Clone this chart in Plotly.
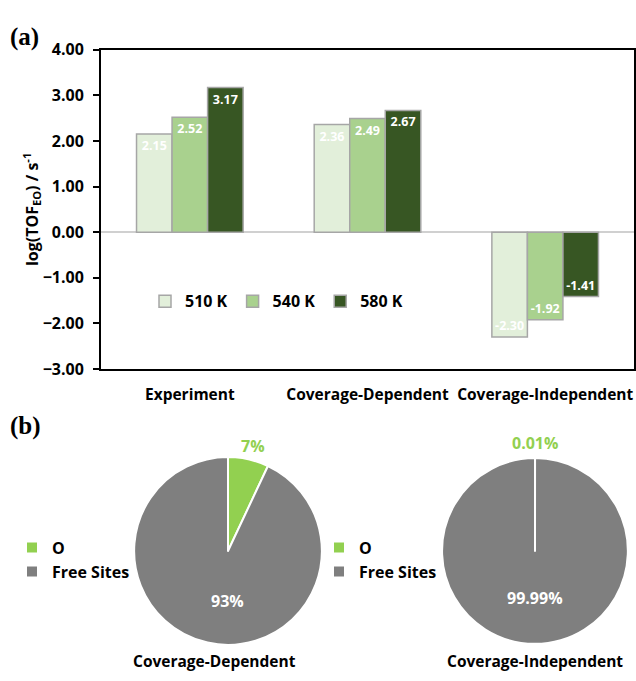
import plotly.graph_objects as go

W, H = 636, 681

# ---- panel (a): log TOF by model and temperature ----
groups = ["Experiment", "Coverage-Dependent", "Coverage-Independent"]
temps = ["510 K", "540 K", "580 K"]
tof_510 = [2.15, 2.36, -2.30]
tof_540 = [2.52, 2.49, -1.92]
tof_580 = [3.17, 2.67, -1.41]
bar_colors = ["#E2EFDA", "#A9D18E", "#375623"]
y_ticks = [-3, -2, -1, 0, 1, 2, 3, 4]

# ---- panel (b): surface coverage ----
cov_labels = ["O", "Free Sites"]
cov_dependent = [7, 93]
cov_independent = [0.01, 99.99]
pie_colors = ["#92D050", "#7F7F7F"]

FONT = "Open Sans"


def px(x):
    return x / W


def py(y):
    return 1 - y / H


fig = go.Figure()

for name, vals, col in zip(temps, [tof_510, tof_540, tof_580], bar_colors):
    fig.add_trace(go.Bar(
        x=groups, y=vals, name=name,
        marker=dict(color=col, line=dict(color="#A6A6A6", width=1.5)),
        texttemplate="%{y:.2f}", textposition="inside", insidetextanchor="end",
        textfont=dict(family=FONT, size=12.5, color="white", weight="bold"),
        textangle=0, legend="legend",
    ))

pie_common = dict(
    labels=cov_labels, sort=False, direction="clockwise", rotation=0,
    marker=dict(colors=pie_colors, line=dict(color="white", width=2)),
    textinfo="none", hoverinfo="label+percent",
)
# separate legend groups so each pie gets its own legend entries
fig.add_trace(go.Pie(values=cov_dependent, legend="legend2", legendgroup="dep",
                     domain=dict(x=[px(131), px(325)], y=[py(655), py(461)]),
                     **pie_common))
fig.add_trace(go.Pie(values=cov_independent, legend="legend3", legendgroup="indep",
                     domain=dict(x=[px(439), px(631)], y=[py(654), py(462)]),
                     **pie_common))

legend_font = dict(family=FONT, size=16, color="black", weight="bold")

fig.update_layout(
    width=W, height=H,
    margin=dict(l=0, r=0, t=0, b=0),
    paper_bgcolor="white", plot_bgcolor="white",
    font=dict(family=FONT, color="#000000"),
    barmode="group", bargap=0.4, bargroupgap=0,
    xaxis=dict(
        domain=[px(101), px(634)],
        showline=True, mirror=True, linecolor="black", linewidth=2,
        ticks="outside", ticklen=10, tickcolor="rgba(0,0,0,0)",
        tickfont=dict(family=FONT, size=15.5, color="black", weight="bold"),
        showgrid=False,
    ),
    yaxis=dict(
        domain=[py(370), py(40)],
        range=[-3, 4], tickvals=y_ticks, tickformat=".2f",
        showline=True, mirror=True, linecolor="black", linewidth=2,
        ticks="outside", ticklen=6, tickcolor="black", tickwidth=2,
        ticklabelstandoff=6,
        tickfont=dict(family=FONT, size=16, color="black", weight="bold"),
        showgrid=False,
        zeroline=True, zerolinecolor="#D0D0D0", zerolinewidth=1.5,
        title=dict(text="log(TOF<sub>EO</sub>) / s<sup>-1</sup>",
                   font=dict(family=FONT, size=16, color="black", weight="bold"),
                   standoff=0),
    ),
    legend=dict(
        orientation="h", x=px(145), y=py(300), xanchor="left", yanchor="middle",
        font=legend_font, bgcolor="rgba(0,0,0,0)", itemwidth=30,
        traceorder="normal",
    ),
    legend2=dict(
        x=px(12), y=py(567), xanchor="left", yanchor="middle",
        font=legend_font, bgcolor="rgba(0,0,0,0)", itemwidth=30,
    ),
    legend3=dict(
        x=px(319), y=py(567), xanchor="left", yanchor="middle",
        font=legend_font, bgcolor="rgba(0,0,0,0)", itemwidth=30,
    ),
)

annotations = [
    dict(text="<b>(a)</b>", x=px(8), y=py(27), xanchor="left", yanchor="middle",
         font=dict(family="Liberation Serif", size=25, color="black")),
    dict(text="<b>(b)</b>", x=px(8), y=py(429), xanchor="left", yanchor="middle",
         font=dict(family="Liberation Serif", size=25, color="black")),
    # slice value labels
    dict(text=f"<b>{cov_dependent[0]:g}%</b>", x=px(253), y=py(450),
         font=dict(family=FONT, size=16, color=pie_colors[0])),
    dict(text=f"<b>{cov_dependent[1]:g}%</b>", x=px(228), y=py(610),
         font=dict(family=FONT, size=16, color="white")),
    dict(text=f"<b>{cov_independent[0]:g}%</b>", x=px(535), y=py(446),
         font=dict(family=FONT, size=16, color=pie_colors[0])),
    dict(text=f"<b>{cov_independent[1]:g}%</b>", x=px(535), y=py(607),
         font=dict(family=FONT, size=16, color="white")),
    # pie captions
    dict(text="<b>Coverage-Dependent</b>", x=px(214), y=py(672),
         font=dict(family=FONT, size=15.5, color="black")),
    dict(text="<b>Coverage-Independent</b>", x=px(535), y=py(672),
         font=dict(family=FONT, size=15.5, color="black")),
]
for a in annotations:
    a.setdefault("xref", "paper")
    a.setdefault("yref", "paper")
    a.setdefault("showarrow", False)
    a.setdefault("xanchor", "center")
    a.setdefault("yanchor", "middle")
fig.update_layout(annotations=annotations)

fig.write_html("out.html")
